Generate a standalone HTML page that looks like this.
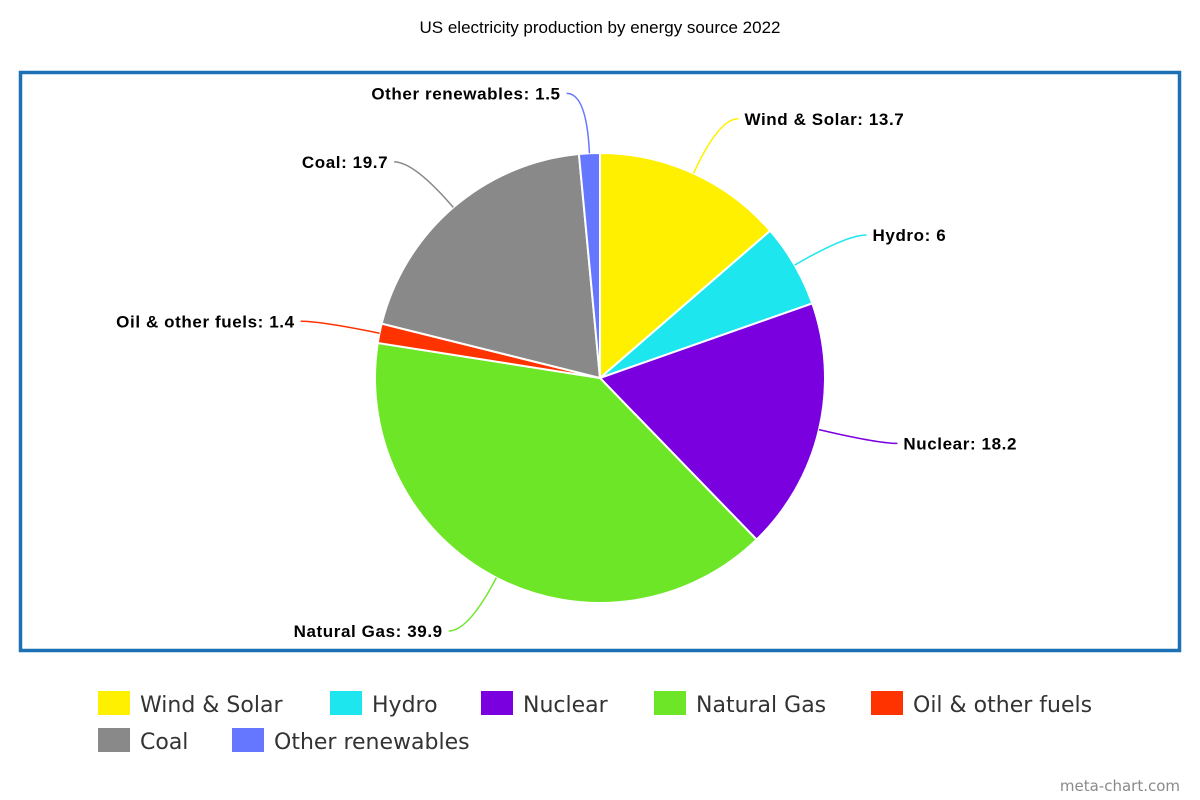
<!DOCTYPE html>
<html><head><meta charset="utf-8"><style>
body{margin:0;background:#fff;}
svg{display:block;}
</style></head><body>
<svg id="c" width="1200" height="800" xmlns="http://www.w3.org/2000/svg">
<text x="600" y="33" text-anchor="middle" font-family="Liberation Sans, sans-serif" font-size="17" fill="#000">US electricity production by energy source 2022</text>
<rect x="20.5" y="72.5" width="1159" height="578" fill="none" stroke="#1c70b6" stroke-width="3.5"/>
<g id="slices"></g>
<g id="labels"></g>
<g id="legend"></g>
<text x="1180" y="791" text-anchor="end" font-family="DejaVu Sans, sans-serif" font-size="15" fill="#8a8a8a">meta-chart.com</text>
</svg>
<script>
const categories=["Wind & Solar","Hydro","Nuclear","Natural Gas","Oil & other fuels","Coal","Other renewables"];
const values=[13.7,6,18.2,39.9,1.4,19.7,1.5];
const colors=["#fff000","#1de6ee","#7a00e0","#6ee628","#ff3300","#898989","#6677ff"];
const NS="http://www.w3.org/2000/svg";
const cx=600,cy=378,r=225;
const total=values.reduce((a,b)=>a+b,0);
function pt(a,rr){return [cx+rr*Math.sin(a),cy-rr*Math.cos(a)];}
const gS=document.getElementById('slices'),gL=document.getElementById('labels'),gG=document.getElementById('legend');
let acc=0;
values.forEach((v,i)=>{
  const a0=acc/total*2*Math.PI;acc+=v;const a1=acc/total*2*Math.PI;
  const p0=pt(a0,r),p1=pt(a1,r);
  const p=document.createElementNS(NS,'path');
  p.setAttribute('d',`M${cx},${cy}L${p0[0]},${p0[1]}A${r},${r} 0 ${a1-a0>Math.PI?1:0} 1 ${p1[0]},${p1[1]}Z`);
  p.setAttribute('fill',colors[i]);p.setAttribute('stroke','#fff');p.setAttribute('stroke-width','2');
  
  
  gS.appendChild(p);
  const am=(a0+a1)/2;const e=pt(am,r),m=pt(am,r+60);
  const right=Math.sin(am)>=0;const hx=m[0]+(right?20:-20);
  const l=document.createElementNS(NS,'path');
  l.setAttribute('d',`M${e[0]},${e[1]}Q${m[0]},${m[1]} ${hx},${m[1]}`);
  l.setAttribute('fill','none');l.setAttribute('stroke',colors[i]);l.setAttribute('stroke-width','1.5');
  
  
  gL.appendChild(l);
  const t=document.createElementNS(NS,'text');
  t.setAttribute('x',hx+(right?6:-6));t.setAttribute('y',m[1]+6);
  t.setAttribute('text-anchor',right?'start':'end');
  t.setAttribute('font-family','Liberation Sans, sans-serif');t.setAttribute('font-size','17');t.setAttribute('font-weight','bold');
  t.setAttribute('letter-spacing','0.6');
  t.textContent=categories[i]+': '+v;
  
  
  gL.appendChild(t);
});
const lx=[98,330,481,654,871,98,232],ly=[691,691,691,691,691,728,728];
categories.forEach((c,i)=>{
  const g=document.createElementNS(NS,'g');
  
  
  const s=document.createElementNS(NS,'rect');
  s.setAttribute('x',lx[i]);s.setAttribute('y',ly[i]);s.setAttribute('width',32);s.setAttribute('height',24);s.setAttribute('fill',colors[i]);
  
  
  const t=document.createElementNS(NS,'text');
  t.setAttribute('x',lx[i]+42);t.setAttribute('y',ly[i]+21);
  t.setAttribute('font-family','DejaVu Sans, sans-serif');t.setAttribute('font-size','22');t.setAttribute('fill','#333');
  t.textContent=c;
  
  
  g.appendChild(s);g.appendChild(t);gG.appendChild(g);
});
</script>
</body></html>
